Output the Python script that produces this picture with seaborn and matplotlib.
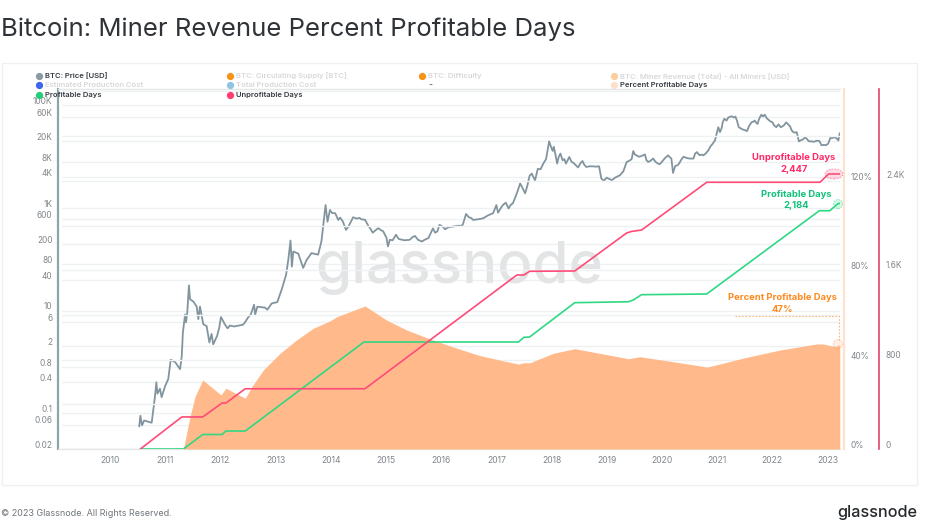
import matplotlib
matplotlib.use("Agg")
import matplotlib.pyplot as plt
from matplotlib.lines import Line2D
from matplotlib.patches import Ellipse, Rectangle
from matplotlib.transforms import ScaledTranslation
import pandas as pd
import seaborn as sns

# ---------- data ----------
price_years = [2010.53,2010.55,2010.58,2010.62,2010.755,2010.785,2010.81,2010.84,2010.86,2010.905,2010.935,2011.0,2011.055,2011.10,2011.18,2011.27,2011.30,2011.32,2011.36,2011.377,2011.40,2011.43,2011.45,2011.51,2011.57,2011.60,2011.63,2011.69,2011.75,2011.80,2011.84,2011.87,2011.94,2011.98,2012.01,2012.08,2012.13,2012.17,2012.41,2012.50,2012.55,2012.61,2012.63,2012.67,2012.81,2012.85,2012.93,2013.03,2013.11,2013.19,2013.23,2013.27,2013.295,2013.32,2013.41,2013.50,2013.56,2013.65,2013.77,2013.83,2013.905,2013.94,2013.985,2014.08,2014.135,2014.22,2014.275,2014.32,2014.405,2014.56,2014.68,2014.76,2014.86,2014.95,2015.01,2015.035,2015.07,2015.18,2015.29,2015.43,2015.525,2015.65,2015.77,2015.85,2015.89,2015.97,2016.07,2016.22,2016.39,2016.45,2016.58,2016.76,2016.94,2017.0,2017.03,2017.17,2017.22,2017.30,2017.37,2017.43,2017.52,2017.64,2017.70,2017.85,2017.955,2018.0,2018.04,2018.10,2018.16,2018.26,2018.32,2018.48,2018.56,2018.63,2018.86,2018.90,2018.945,2019.09,2019.24,2019.36,2019.48,2019.54,2019.69,2019.75,2019.84,2019.96,2020.11,2020.17,2020.20,2020.31,2020.39,2020.57,2020.63,2020.75,2020.84,2020.96,2021.02,2021.05,2021.13,2021.17,2021.26,2021.33,2021.39,2021.54,2021.62,2021.68,2021.73,2021.80,2021.86,2021.96,2022.07,2022.11,2022.15,2022.25,2022.35,2022.44,2022.48,2022.59,2022.71,2022.85,2022.89,2023.01,2023.05,2023.16,2023.195,2023.22,
2012.25,2012.33,2012.45,2014.02,2014.17,2014.47,2014.52,2014.62,2014.72,2014.80,2014.90,2015.12,2015.23,2015.34,2015.48,2015.58,2015.70,2015.93,2016.03,2016.13,2016.30,2016.36,2016.50,2016.54,2016.65,2016.70,2016.85,2017.08,2017.12,2017.26,2017.47,2017.56,2017.60,2017.67,2017.75,2017.80,2017.90,2017.93,2018.02,2018.07,2018.13,2018.20,2018.23,2018.30,2018.36,2018.40,2018.44,2018.52,2018.59,2018.68,2018.75,2018.80,2019.0,2019.15,2019.30,2019.42,2019.45,2019.51,2019.58,2019.63,2019.72,2019.79,2019.88,2019.92,2020.0,2020.05,2020.14,2020.24,2020.28,2020.35,2020.44,2020.50,2020.60,2020.68,2020.72,2020.79,2020.88,2020.92,2021.08,2021.10,2021.20,2021.30,2021.36,2021.42,2021.46,2021.50,2021.58,2021.65,2021.70,2021.76,2021.83,2021.90,2022.0,2022.03,2022.18,2022.21,2022.29,2022.32,2022.38,2022.41,2022.52,2022.56,2022.62,2022.66,2022.75,2022.80,2022.93,2022.97,2023.08,2023.12]
price_usd = [.055,.089,.058,.072,.065,.115,.19,.40,.24,.30,.205,.34,.46,1.1,.99,.72,1.3,3.7,8.4,5.9,9.2,31,16.6,15,12,6.8,12,5.4,5.0,2.4,3.5,2.2,3.2,4.7,7.5,5.4,4.5,5.1,5.3,7.3,8.4,13,8.4,11.9,11.4,10.4,13.8,14.6,25.7,50,98,232,72,142,129,68,96,132,123,222,1140,540,915,790,585,540,375,435,660,600,450,330,405,350,260,178,240,300,240,240,285,222,260,400,330,470,385,435,470,765,585,630,790,1140,810,1270,980,1240,1930,3000,1930,4700,3480,7350,19900,14400,15600,7350,11500,7350,9870,6170,8260,6300,6500,3770,3400,3480,4370,7890,12900,10600,11100,7900,9200,7150,10650,9200,4830,7350,10000,9200,12300,10650,13300,20800,37600,30200,55000,50700,61600,60600,37600,31600,46800,50700,43600,66000,66000,49000,37600,42700,37600,46800,32500,30200,19900,24000,19900,20300,16700,17900,23300,22900,20800,28700,
4.9,5.1,6.0,800,650,620,640,590,390,360,375,235,250,235,270,240,240,350,430,420,450,450,660,640,600,610,720,1000,1150,1150,2500,2700,4200,4000,5800,5700,9000,14000,13000,11000,10000,8500,9000,9000,8000,7500,6800,7400,7000,6500,6500,6400,3900,3900,5200,8500,9000,11000,10000,10300,8500,8300,8000,7400,8000,9300,9800,6600,6800,8800,9500,9200,11500,10700,11000,11500,16000,18000,36000,47000,58000,58000,50000,36000,34000,33000,40000,48000,47000,55000,61000,56000,47000,41000,39000,41000,42000,39000,30000,29500,21000,22000,22500,20000,19500,20500,17000,16800,23000,24000]

unprof_years = [2010.55,2011.30,2011.68,2012.03,2012.10,2012.45,2014.62,2017.37,2017.50,2017.60,2018.42,2019.36,2019.45,2019.63,2020.81,2022.86,2023.02,2023.22]
unprof_days = [0,285,285,409,409,536,536,1548,1548,1581,1584,1922,1936,1948,2373,2373,2447,2447]

prof_years = [2010.55,2011.33,2011.68,2012.03,2012.10,2012.45,2014.6,2017.40,2017.50,2017.60,2018.42,2019.39,2019.48,2019.63,2020.81,2022.85,2023.04,2023.19,2023.22]
prof_days = [0,0,129,129,160,160,952,952,994,996,1302,1310,1326,1373,1379,2120,2120,2184,2184]

pct_years = [2011.33,2011.45,2011.54,2011.68,2012.01,2012.10,2012.45,2012.57,2012.78,2013.08,2013.38,2013.68,2013.99,2014.11,2014.62,2015.01,2015.37,2015.80,2016.21,2016.70,2017.19,2017.40,2017.49,2017.61,2018.03,2018.42,2019.39,2019.60,2020.69,2020.81,2021.53,2022.14,2022.80,2022.92,2023.13,2023.22]
pct_values = [0,14.5,23.4,30.9,24.2,27.2,22.7,27.9,35.4,42.8,48.8,54.0,57.4,59.2,64.0,57.7,53.3,49.2,45.7,41.8,39.1,38.0,38.6,38.6,42.8,44.9,40.4,41.3,37.2,36.6,41.0,44.3,47.0,47.0,45.8,46.6]

year_ticks = list(range(2010, 2024))
price_ticks = [100000,60000,20000,8000,4000,1000,600,200,80,40,10,6,2,0.8,0.4,0.1,0.06,0.02]
price_labels = ["100K","60K","20K","8K","4K","1K","600","200","80","40","10","6","2","0.8","0.4","0.1","0.06","0.02"]
pct_ticks = [0,20,40,60,80,100,120,140,160]
pct_labels = ["0%","","40%","","80%","","120%","",""]
days_ticks = [0,800,1600,2400]
days_labels = ["0","800","1.6K","2.4K"]

legend_rows = [
    (39,76,"#8a9aa3","BTC: Price [USD]","#333a40"),
    (230.5,76,"#f7931a","BTC: Circulating Supply [BTC]","#d6d8da"),
    (422.5,76,"#f7931a","BTC: Difficulty","#d6d8da"),
    (614,76,"#fbcf9f","BTC: Miner Revenue (Total) - All Miners [USD]","#d6d8da"),
    (39,85,"#3d66f0","Estimated Production Cost","#d6d8da"),
    (230.5,85,"#8fc4e4","Total Production Cost","#d6d8da"),
    (614,85,"#fde0cb","Percent Profitable Days","#333a40"),
    (39,95,"#22cf78","Profitable Days","#333a40"),
    (230.5,95,"#ff3d6e","Unprofitable Days","#333a40"),
]

# ---------- style ----------
sns.set_theme(style="white")
plt.rcParams["font.family"] = ["Inter", "DejaVu Sans"]
W, H = 928, 530
TICK = "#80868b"
GRID = "#eff0f1"
PX = 0.72  # points per pixel at dpi 100

fig = plt.figure(figsize=(W/100, H/100), dpi=100, facecolor="white")
L, R, T, B = 62, 840, 89, 449
rect = [L/W, 1-B/H, (R-L)/W, (B-T)/H]
fx = lambda x: x/W
fy = lambda y: 1-y/H

fig.add_artist(Rectangle((fx(2), fy(485)), (917-2)/W, (485-63)/H, transform=fig.transFigure,
                         fc="none", ec="#eef0f1", lw=1, zorder=-5))

ax_pct = fig.add_axes(rect, zorder=1); ax_pct.patch.set_alpha(0)
ax_days = ax_pct.twinx(); ax_days.set_zorder(2); ax_days.patch.set_alpha(0)
ax_price = ax_pct.twinx(); ax_price.set_zorder(0); ax_price.patch.set_alpha(1)

x0, x1 = 2010+(L-110)/55.2, 2010+(R-110)/55.2
for a in (ax_pct, ax_days, ax_price):
    a.set_xlim(x0, x1)
    for s in a.spines.values():
        s.set_visible(False)

def lift(a):
    """Tick labels sit 4 px above their grid line, as in the reference."""
    off = ScaledTranslation(0, 3.6/100, fig.dpi_scale_trans)
    for t in a.get_yticklabels():
        t.set_va("center")
        t.set_transform(t.get_transform() + off)

# percent
ax_pct.set_ylim(0, 161.1)
ax_pct.text(fx(459), fy(268), "glassnode", transform=fig.transFigure, ha="center", va="center",
            fontsize=42, color="#e3e4e5", fontweight="medium", zorder=0.5)
ax_pct.fill_between(pct_years, pct_values, 0, color="#ffb98a", lw=0, zorder=2)
ax_pct.set_yticks(pct_ticks, pct_labels)
ax_pct.grid(True, axis="y", color=GRID, lw=1, zorder=1)
ax_pct.set_axisbelow(True)
ax_pct.yaxis.tick_right()
ax_pct.spines["right"].set_visible(True)
ax_pct.spines["right"].set_position(("outward", 4*PX))
ax_pct.spines["right"].set_color("#fde3cf")
ax_pct.spines["right"].set_linewidth(1.6)
ax_pct.tick_params(axis="y", length=0, labelsize=6, labelcolor=TICK, pad=5)
ax_pct.set_xticks(year_ticks, [str(y) for y in year_ticks])
ax_pct.tick_params(axis="x", length=0, labelsize=6.2, labelcolor=TICK, pad=5)
lift(ax_pct)

# days
ax_days.set_ylim(0, 3203)
sns.lineplot(data=pd.DataFrame({"year": prof_years, "days": prof_days}), x="year", y="days",
             ax=ax_days, color="#2fd882", lw=1.2, errorbar=None)
sns.lineplot(data=pd.DataFrame({"year": unprof_years, "days": unprof_days}), x="year", y="days",
             ax=ax_days, color="#ff4b78", lw=1.2, errorbar=None)
ax_days.set_xlabel(""); ax_days.set_ylabel("")
ax_days.set_yticks(days_ticks, days_labels)
ax_days.yaxis.tick_right()
ax_days.spines["right"].set_visible(True)
ax_days.spines["right"].set_position(("outward", 39*PX))
ax_days.spines["right"].set_color("#e8416b")
ax_days.spines["right"].set_linewidth(1.2)
ax_days.tick_params(axis="y", length=0, labelsize=6, labelcolor=TICK, pad=5)
ax_days.tick_params(axis="x", length=0, labelbottom=False)
lift(ax_days)

# price
ax_price.set_yscale("log")
ax_price.set_ylim(0.02, 209000)
sns.lineplot(data=pd.DataFrame({"year": price_years, "price": price_usd}), x="year", y="price",
             ax=ax_price, color="#82959f", lw=1.3, errorbar=None)
ax_price.set_xlabel(""); ax_price.set_ylabel("")
ax_price.set_yticks(price_ticks, price_labels)
ax_price.minorticks_off()
ax_price.yaxis.tick_left()
ax_price.spines["left"].set_visible(True)
ax_price.spines["left"].set_position(("outward", 4*PX))
ax_price.spines["left"].set_color("#8fa3ad")
ax_price.spines["left"].set_linewidth(1.6)
ax_price.tick_params(axis="y", length=0, labelsize=6, labelcolor=TICK, pad=4)
ax_price.tick_params(axis="x", length=0, labelbottom=False)
lift(ax_price)
ax_price.grid(True, axis="y", color=GRID, lw=1)
ax_price.set_axisbelow(True)

for y in (T, B):
    fig.add_artist(Line2D([fx(58), fx(840)], [fy(y), fy(y)], transform=fig.transFigure, color="#e4e6e8", lw=1, zorder=0.5))

# annotations
def label(xc, y, s, c, fs=6.8):
    fig.text(fx(xc), fy(y), s, color=c, ha="center", va="center", fontsize=fs, fontweight="bold")
label(794, 157.5, "Unprofitable Days", "#ff2a66")
label(794, 169, "2,447", "#ff2a66")
label(796, 194.5, "Profitable Days", "#12c17a")
label(796, 206, "2,184", "#12c17a")
label(782.5, 297.5, "Percent Profitable Days", "#ff8a1f")
label(782.5, 309, "47%", "#ff8a1f")
fig.add_artist(Line2D([fx(735), fx(839.5), fx(839.5)], [fy(316), fy(316), fy(342)], transform=fig.transFigure,
                      color="#fbb77e", lw=0.8, ls=(0, (1.5, 1.5)), zorder=6))
for xc, yc, w, h, c, e in [(834, 174, 18, 10, "#ff4b78", "#ff4b78"),
                           (838, 204, 9, 9, "#2fd882", "#2fd882"),
                           (838, 344, 9, 9, "#ffb98a", "#ff9a50")]:
    fig.add_artist(Ellipse((fx(xc), fy(yc)), w/W, h/H, transform=fig.transFigure,
                           fc=matplotlib.colors.to_rgba(c, 0.2), ec=matplotlib.colors.to_rgba(e, 0.6),
                           lw=0.6, ls=(0, (2, 1.5)), zorder=6))

# legend
for x, y, dot, s, tc in legend_rows:
    fig.add_artist(Line2D([fx(x)], [fy(y)], transform=fig.transFigure, marker="o", ms=4.2, color=dot, lw=0, zorder=7))
    fig.text(fx(x+5.7), fy(y), s, color=tc, fontsize=5.5, va="center", ha="left", fontweight="semibold", zorder=7)
fig.text(fx(430), fy(85.5), "-", color="#777", fontsize=6, va="center", ha="center", fontweight="bold", zorder=7)

# title & footer
fig.text(fx(1.5), fy(29), "Bitcoin: Miner Revenue Percent Profitable Days", fontsize=18.5, color="#2f3337", va="center", ha="left")
fig.text(fx(1.5), fy(513), "© 2023 Glassnode. All Rights Reserved.", fontsize=6.45, color="#6f757a", va="center", ha="left")
fig.text(fx(917), fy(513), "glassnode", fontsize=11.7, color="#26292c", va="center", ha="right", fontweight="medium")

fig.savefig("out.png", dpi=100)
